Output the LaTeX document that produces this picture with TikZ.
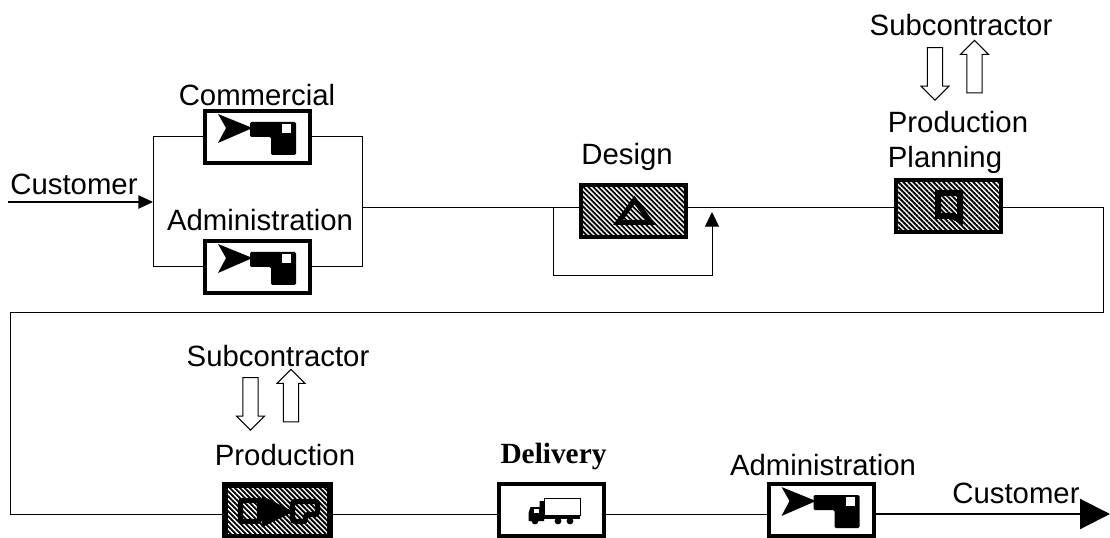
\documentclass[tikz,border=0pt]{standalone}
\usepackage{fontspec}
\setmainfont{Liberation Sans}
\newfontfamily\boldserif{Liberation Serif}
\usetikzlibrary{arrows.meta,patterns.meta,shapes.arrows}
\newcommand{\drawOfficeIcon}[1]{
    \begin{scope}[shift={(#1)}]
        \fill[black] (-39.5,-23)--(-5,-9)--(-39.5,6)--(-31.5,-9)--cycle;
        \fill[black, rounded corners=1pt] (-7.5,-15)--(38.5,-15)--(38.5,18)--(13.5,18)--(13.5,0)--(-7.5,0)--cycle;
        \fill[white] (24.5,-13) rectangle (33.5,-4);
    \end{scope}
}
\newcommand{\drawTruckIcon}[1]{
    \begin{scope}[shift={(#1)}]
        \draw[black, line width=0.6pt] (-7.5,-12) rectangle (28.5,5);
        \fill[black] (-21,-3)--(-12,-3)--(-12,-9)--(-7.5,-9)--(-7.5,11)--(-23,11)--(-23,3)--cycle;
        \fill[black] (-7.5,6) rectangle (28.5,9);
        \fill[white] (-18,-1) rectangle (-13,3);
        \foreach \wheel in {-16.5,6.5,18.5}{ \fill[black] (\wheel,11) circle (3.4); }
    \end{scope}
}
\begin{document}
\begin{tikzpicture}[
    x=0.75pt, y=-0.75pt,
    % Node styles
    plain box/.style={draw=black, fill=white, line width=3pt, minimum width=78.75pt, minimum height=39pt, inner sep=0pt},
    hatch box/.style={draw=black, line width=3.5pt, minimum width=78.75pt, minimum height=39pt, inner sep=0pt,
        pattern={Lines[angle=-45, distance=2.65pt, line width=1.4pt]}},
    text label/.style={anchor=base, inner sep=0pt, font=\fontsize{22}{24}\selectfont},
    serif label/.style={anchor=base, inner sep=0pt, font=\boldserif\bfseries\fontsize{22}{24}\selectfont},
    hollow arrow/.style={draw=black, fill=white, single arrow, line width=0.75pt, inner sep=5.4pt,
        single arrow head extend=4.7pt, minimum height=39.5pt},
    % Edge styles
    flow edge/.style={line width=0.75pt, black},
    in edge/.style={line width=1pt, black, -{Triangle[length=11pt, width=10pt]}},
    loop edge/.style={line width=0.75pt, black, -{Triangle[length=11pt, width=10.5pt]}},
    out edge/.style={line width=1.6pt, black, -{Triangle[length=22.5pt, width=22.5pt]}}
]
\useasboundingbox (0,0) rectangle (1110,538);

% Boxes
\node[plain box] (comBox) at (257.5,137) {};
\node[plain box] (admBox) at (257.5,267) {};
\node[plain box] (lastBox) at (821,510) {};
\node[plain box] (delBox) at (551.5,510) {};
\node[hatch box] (desBox) at (633.5,211) {};
\node[hatch box] (planBox) at (948.5,206) {};
\node[hatch box, line width=4.5pt] (prodBox) at (277.5,510.5) {};

% Route corners
\coordinate (startA) at (8,202);
\coordinate (joinL) at (153,202);
\coordinate (joinR) at (362,208);
\coordinate (comL) at (153,137);
\coordinate (comR) at (362,137);
\coordinate (admL) at (153,267);
\coordinate (admR) at (362,267);
\coordinate (loopA) at (553,208);
\coordinate (loopB) at (553,276);
\coordinate (loopC) at (712,276);
\coordinate (loopD) at (712,212);
\coordinate (turnA) at (1103,208);
\coordinate (turnB) at (1103,313);
\coordinate (turnC) at (10,313);
\coordinate (turnD) at (10,514);
\coordinate (endA) at (1110,514);

% Connectors
\draw[in edge] (startA) -- (joinL);
\draw[flow edge] (comBox) -- (comL) -- (admL) -- (admBox);
\draw[flow edge] (comBox) -- (comR) -- (admR) -- (admBox);
\draw[flow edge] (joinR) -- (desBox.west |- joinR);
\draw[flow edge] (desBox.east |- joinR) -- (planBox.west |- joinR);
\draw[flow edge] (planBox.east |- joinR) -- (turnA) -- (turnB) -- (turnC) -- (turnD) -- (prodBox.west |- turnD);
\draw[loop edge] (loopA) -- (loopB) -- (loopC) -- (loopD);
\draw[flow edge] (prodBox.east |- turnD) -- (delBox.west |- turnD);
\draw[flow edge] (delBox.east |- turnD) -- (lastBox.west |- turnD);
\draw[out edge] (lastBox.east |- endA) -- (endA);

% Icons
\foreach \officeBox in {comBox,admBox,lastBox}{ \drawOfficeIcon{\officeBox.center} }
\drawTruckIcon{delBox.center}
\draw[black, line width=3.75pt] (634.5,200)--(651,222.5)--(618,222.5)--cycle;
\draw[black, line width=4.5pt] (938,193)--(960,193)--(960,220)--(952,216)--(938,216)--cycle;
\begin{scope}[shift={(prodBox.center)}]
    \draw[black, line width=4pt, rounded corners=2pt] (-37,-10) rectangle (-18,11);
    \fill[black] (-16,-15)--(16,1)--(-16,17)--cycle;
    \draw[black, line width=4pt, rounded corners=2pt] (15,-9)--(40,-9)--(40,4)--(28,4)--(28,11)--(15,11)--cycle;
\end{scope}

% Hollow arrows
\node[hollow arrow, rotate=-90] (subOutA) at (935,70) {};
\node[hollow arrow, rotate=90] (subInA) at (974.5,70.5) {};
\node[hollow arrow, rotate=-90] (subOutB) at (250.5,400) {};
\node[hollow arrow, rotate=90] (subInB) at (291,399.5) {};

% Labels
\node[text label] (lblCustIn) at (74,195) {Customer};
\node[text label] (lblCom) at (257,106) {Commercial};
\node[text label] (lblAdm) at (260,231) {Administration};
\node[text label] (lblDes) at (627,165) {Design};
\node[text label] (lblSubA) at (961,36) {Subcontractor};
\node[text label] (lblPrA) at (958,133) {Production};
\node[text label] (lblPlan) at (945,168) {Planning};
\node[text label] (lblSubB) at (278,366) {Subcontractor};
\node[text label] (lblPrB) at (285,465) {Production};
\node[serif label] (lblDel) at (553.5,463) {Delivery};
\node[text label] (lblLast) at (823,475) {Administration};
\node[text label] (lblCustOut) at (1016,503) {Customer};
\end{tikzpicture}
\end{document}
